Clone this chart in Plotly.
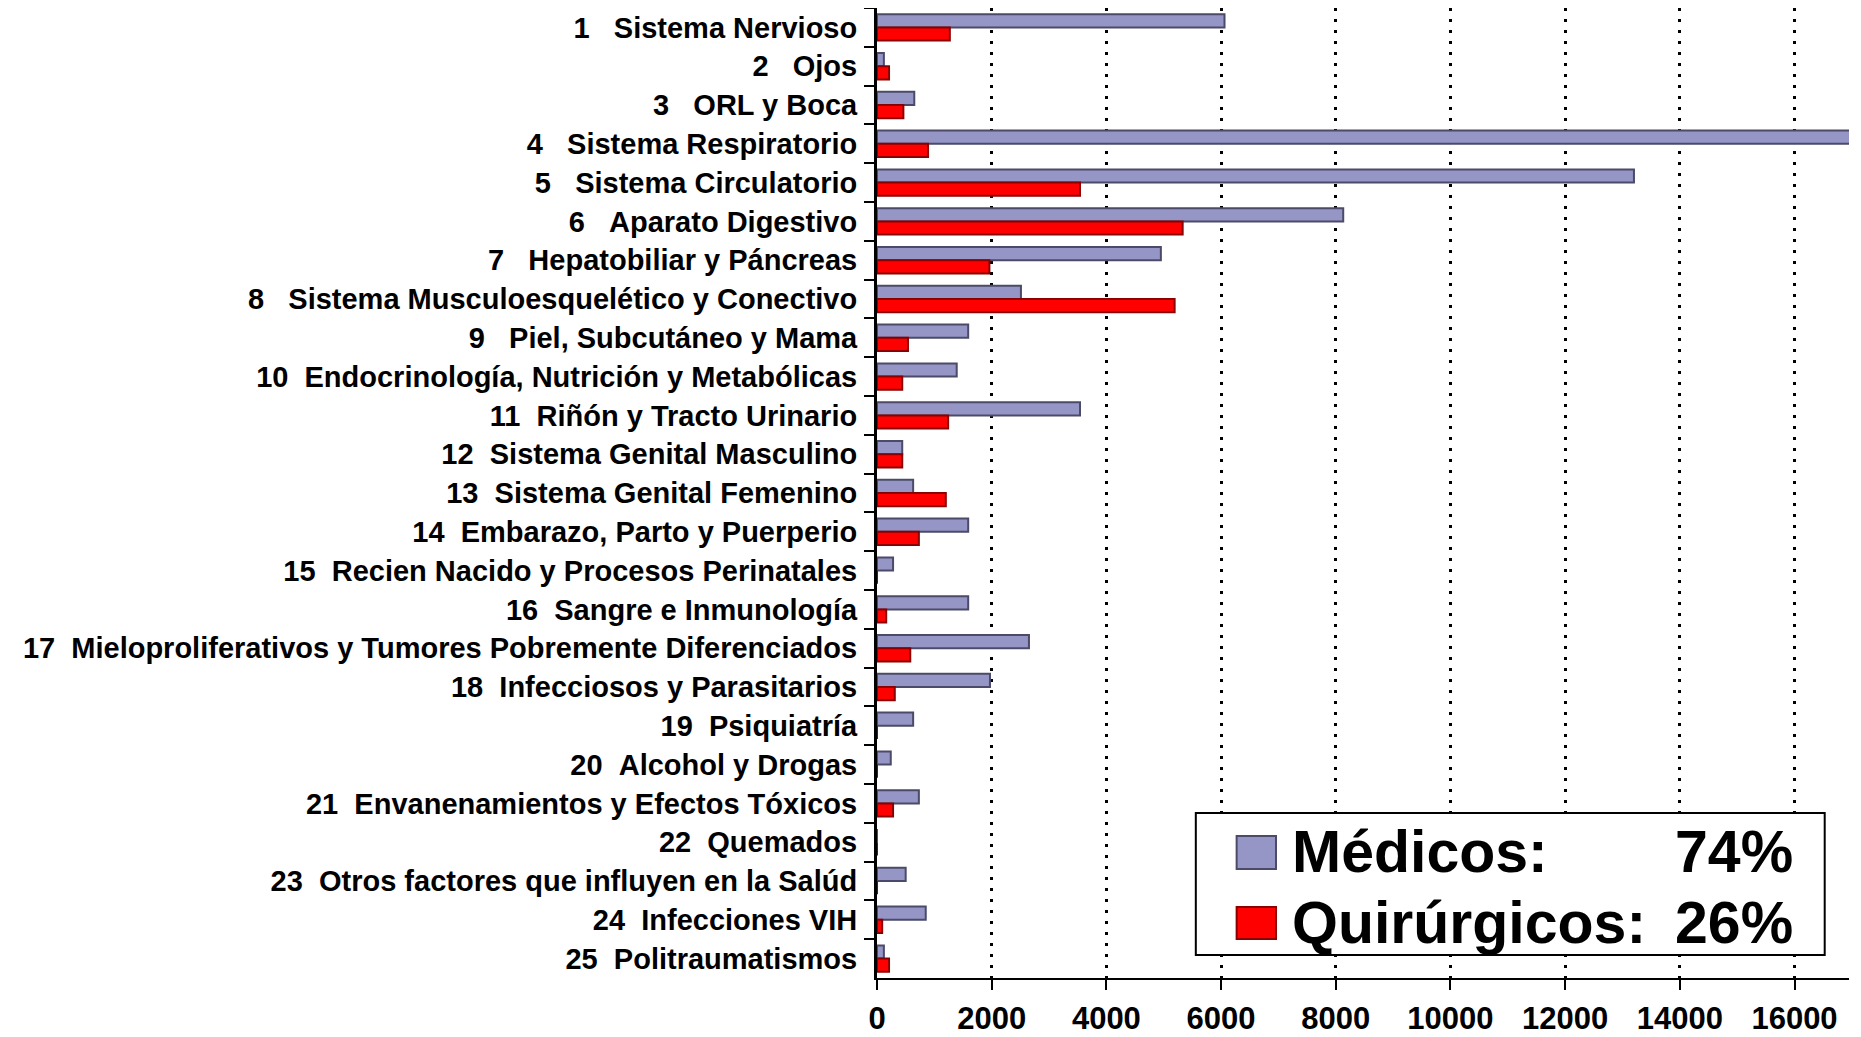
import plotly.graph_objects as go

# --- данные ---
numeros = list(range(1, 26))
grupos = [
    "Sistema Nervioso", "Ojos", "ORL y Boca", "Sistema Respiratorio",
    "Sistema Circulatorio", "Aparato Digestivo", "Hepatobiliar y Páncreas",
    "Sistema Musculoesquelético y Conectivo", "Piel, Subcutáneo y Mama",
    "Endocrinología, Nutrición y Metabólicas", "Riñón y Tracto Urinario",
    "Sistema Genital Masculino", "Sistema Genital Femenino",
    "Embarazo, Parto y Puerperio", "Recien Nacido y Procesos Perinatales",
    "Sangre e Inmunología",
    "Mieloproliferativos y Tumores Pobremente Diferenciados",
    "Infecciosos y Parasitarios", "Psiquiatría", "Alcohol y Drogas",
    "Envanenamientos y Efectos Tóxicos", "Quemados",
    "Otros factores que influyen en la Salúd", "Infecciones VIH",
    "Politraumatismos",
]
medicos = [6060, 120, 650, 17500, 13200, 8130, 4950, 2510, 1590, 1390,
           3540, 440, 630, 1590, 280, 1590, 2650, 1970, 630, 240,
           730, 0, 500, 850, 120]
quirurgicos = [1270, 210, 460, 890, 3540, 5330, 1960, 5190, 540, 440,
               1240, 440, 1200, 730, 0, 160, 580, 310, 0, 0,
               280, 0, 0, 90, 210]
pct_medicos = "74%"
pct_quirurgicos = "26%"
x_ticks = list(range(0, 16001, 2000))

NB = "\u00a0"
etiquetas = [f"{n}{NB * (3 if n < 10 else 2)}{g}" for n, g in zip(numeros, grupos)]

FONT = "Arial, 'Liberation Sans', sans-serif"

fig = go.Figure()
fig.add_trace(go.Bar(
    y=etiquetas, x=medicos, orientation="h", name="Médicos",
    marker=dict(color="#9595C6", line=dict(color="#4B4B69", width=2)),
    showlegend=False,
))
fig.add_trace(go.Bar(
    y=etiquetas, x=quirurgicos, orientation="h", name="Quirúrgicos",
    marker=dict(color="#FF0000", line=dict(color="#8A0000", width=2)),
    showlegend=False,
))

# страница имеет отступ 8px у body, поэтому фигура чуть меньше окна
fig.update_layout(
    width=1853, height=1029,
    margin=dict(l=869, r=12, t=0, b=59),
    paper_bgcolor="white", plot_bgcolor="white",
    barmode="group", bargap=0.32, bargroupgap=0,
    font=dict(family=FONT, color="black"),
    xaxis=dict(
        range=[0, 16950], tickvals=x_ticks, ticktext=[str(t) for t in x_ticks],
        automargin=False,
        showgrid=True, gridcolor="black", griddash="3px,8px", gridwidth=3,
        zeroline=False, showline=True, linecolor="black", linewidth=2,
        ticks="outside", ticklen=10, tickwidth=2, tickcolor="black",
        tickfont=dict(size=31, family=FONT, weight="bold"),
        ticklabelstandoff=2,
    ),
    yaxis=dict(
        autorange="reversed", showgrid=False, zeroline=False, automargin=False,
        showline=True, linecolor="black", linewidth=3,
        ticks="outside", tickson="boundaries", ticklen=10, tickwidth=2,
        tickcolor="black",
        tickfont=dict(size=29, family=FONT, weight="bold"),
        ticklabelstandoff=11,
    ),
)

# --- leyenda con porcentajes ---
fig.add_shape(type="rect", xref="paper", yref="paper",
              x0=0.328, x1=0.975, y0=0.0237, y1=0.170,
              line=dict(color="black", width=2), fillcolor="white", layer="above")
fig.add_shape(type="rect", xref="paper", yref="paper",
              x0=0.370, x1=0.4105, y0=0.1124, y1=0.1464,
              line=dict(color="#4B4B69", width=2), fillcolor="#9595C6", layer="above")
fig.add_shape(type="rect", xref="paper", yref="paper",
              x0=0.370, x1=0.4105, y0=0.0402, y1=0.0732,
              line=dict(color="#8A0000", width=2), fillcolor="#FF0000", layer="above")

leg_font = dict(size=59, family=FONT, color="black", weight="bold")
for texto, pct, yy in [("Médicos:", pct_medicos, 0.1299),
                       ("Quirúrgicos:", pct_quirurgicos, 0.0567)]:
    fig.add_annotation(xref="paper", yref="paper", x=0.425, y=yy,
                       xanchor="left", yanchor="middle", text=texto,
                       showarrow=False, font=leg_font)
    fig.add_annotation(xref="paper", yref="paper", x=0.9444, y=yy,
                       xanchor="right", yanchor="middle", text=pct,
                       showarrow=False, font=leg_font)

fig.write_html("out.html")
